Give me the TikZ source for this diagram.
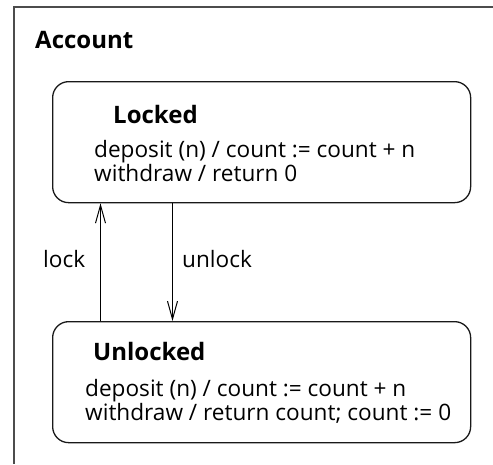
\documentclass[tikz,border=0pt]{standalone}
\usepackage{fontspec}
\setmainfont{Open Sans}
\usetikzlibrary{arrows.meta}
\begin{document}
\begin{tikzpicture}[x=1pt,y=-1pt,
  frame/.style={draw=black!70,line width=2pt},
  statebox/.style={draw=black!90,line width=1.3pt,rounded corners=16pt,anchor=north west,minimum width=418pt,minimum height=121pt,inner sep=0pt},
  title/.style={anchor=base west,font=\fontsize{24}{28}\selectfont\bfseries,inner sep=0pt},
  body/.style={anchor=base west,font=\fontsize{22.6}{26}\selectfont,inner sep=0pt},
  trans/.style={draw=black,line width=1pt,-{Straight Barb[length=18pt,width=10pt,line width=1pt]}}]
\useasboundingbox (0,0) rectangle (493,464);
\draw[frame] (493,7) -- (13.5,7) -- (13.5,464);
\node[title] (account) at (35,48) {Account};
\node[statebox] (locked) at (52,81) {};
\node[title] (lockedtitle) at (113,123.5) {Locked};
\node[body] (l1) at (94,157) {deposit (n) / count := count + n};
\node[body] (l2) at (94,181) {withdraw / return 0};
\node[statebox] (unlocked) at (52,321) {};
\node[title] (unlockedtitle) at (93,360) {Unlocked};
\node[body] (u1) at (85,396) {deposit (n) / count := count + n};
\node[body] (u2) at (85,420) {withdraw / return count; count := 0};
\coordinate (lockx) at (100.5,0);
\coordinate (unlockx) at (172.5,0);
\draw[trans] (unlocked.north -| lockx) -- (locked.south -| lockx);
\draw[trans] (locked.south -| unlockx) -- (unlocked.north -| unlockx);
\node[body] (locklbl) at (43,267) {lock};
\node[body] (unlocklbl) at (182,267) {unlock};
\end{tikzpicture}
\end{document}
